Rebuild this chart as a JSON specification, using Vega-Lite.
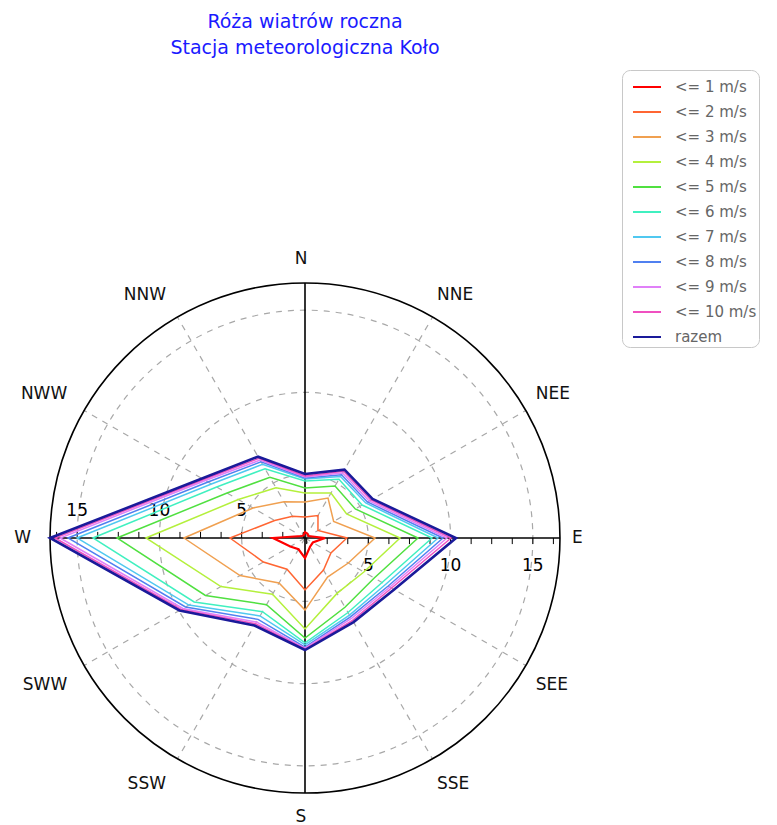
{
  "$schema": "https://vega.github.io/schema/vega-lite/v6.json",
  "width": 574,
  "height": 574,
  "autosize": {"type": "none"},
  "padding": {"left": 18, "top": 251, "right": 185, "bottom": 0},
  "background": "white",
  "config": {"view": {"stroke": null}},
  "title": {
    "text": ["Róża wiatrów roczna", "Stacja meteorologiczna Koło"],
    "color": "#1a1aff",
    "font": "DejaVu Sans",
    "fontSize": 19,
    "fontWeight": "normal",
    "lineHeight": 26,
    "anchor": "middle",
    "frame": "group",
    "offset": 12
  },
  "datasets": {
    "wind": [
      {"cls": "<= 1 m/s", "dir": "N", "deg": 0, "v": 1.51},
      {"cls": "<= 1 m/s", "dir": "NNE", "deg": 30, "v": 1.45},
      {"cls": "<= 1 m/s", "dir": "NEE", "deg": 60, "v": 1.39},
      {"cls": "<= 1 m/s", "dir": "E", "deg": 90, "v": 2.37},
      {"cls": "<= 1 m/s", "dir": "SEE", "deg": 120, "v": 1.70},
      {"cls": "<= 1 m/s", "dir": "SSE", "deg": 150, "v": 1.76},
      {"cls": "<= 1 m/s", "dir": "S", "deg": 180, "v": 2.37},
      {"cls": "<= 1 m/s", "dir": "SSW", "deg": 210, "v": 1.94},
      {"cls": "<= 1 m/s", "dir": "SWW", "deg": 240, "v": 2.18},
      {"cls": "<= 1 m/s", "dir": "W", "deg": 270, "v": 3.10},
      {"cls": "<= 1 m/s", "dir": "NWW", "deg": 300, "v": 1.39},
      {"cls": "<= 1 m/s", "dir": "NNW", "deg": 330, "v": 1.33},

      {"cls": "<= 2 m/s", "dir": "N", "deg": 0, "v": 2.43},
      {"cls": "<= 2 m/s", "dir": "NNE", "deg": 30, "v": 2.73},
      {"cls": "<= 2 m/s", "dir": "NEE", "deg": 60, "v": 2.06},
      {"cls": "<= 2 m/s", "dir": "E", "deg": 90, "v": 3.70},
      {"cls": "<= 2 m/s", "dir": "SEE", "deg": 120, "v": 2.97},
      {"cls": "<= 2 m/s", "dir": "SSE", "deg": 150, "v": 3.40},
      {"cls": "<= 2 m/s", "dir": "S", "deg": 180, "v": 4.31},
      {"cls": "<= 2 m/s", "dir": "SSW", "deg": 210, "v": 3.34},
      {"cls": "<= 2 m/s", "dir": "SWW", "deg": 240, "v": 4.07},
      {"cls": "<= 2 m/s", "dir": "W", "deg": 270, "v": 5.71},
      {"cls": "<= 2 m/s", "dir": "NWW", "deg": 300, "v": 3.28},
      {"cls": "<= 2 m/s", "dir": "NNW", "deg": 330, "v": 2.67},

      {"cls": "<= 3 m/s", "dir": "N", "deg": 0, "v": 3.34},
      {"cls": "<= 3 m/s", "dir": "NNE", "deg": 30, "v": 3.95},
      {"cls": "<= 3 m/s", "dir": "NEE", "deg": 60, "v": 3.16},
      {"cls": "<= 3 m/s", "dir": "E", "deg": 90, "v": 5.41},
      {"cls": "<= 3 m/s", "dir": "SEE", "deg": 120, "v": 4.19},
      {"cls": "<= 3 m/s", "dir": "SSE", "deg": 150, "v": 3.89},
      {"cls": "<= 3 m/s", "dir": "S", "deg": 180, "v": 5.53},
      {"cls": "<= 3 m/s", "dir": "SSW", "deg": 210, "v": 4.31},
      {"cls": "<= 3 m/s", "dir": "SWW", "deg": 240, "v": 5.71},
      {"cls": "<= 3 m/s", "dir": "W", "deg": 270, "v": 8.51},
      {"cls": "<= 3 m/s", "dir": "NWW", "deg": 300, "v": 4.80},
      {"cls": "<= 3 m/s", "dir": "NNW", "deg": 330, "v": 3.70},

      {"cls": "<= 4 m/s", "dir": "N", "deg": 0, "v": 3.89},
      {"cls": "<= 4 m/s", "dir": "NNE", "deg": 30, "v": 4.31},
      {"cls": "<= 4 m/s", "dir": "NEE", "deg": 60, "v": 4.07},
      {"cls": "<= 4 m/s", "dir": "E", "deg": 90, "v": 6.93},
      {"cls": "<= 4 m/s", "dir": "SEE", "deg": 120, "v": 5.28},
      {"cls": "<= 4 m/s", "dir": "SSE", "deg": 150, "v": 5.04},
      {"cls": "<= 4 m/s", "dir": "S", "deg": 180, "v": 6.68},
      {"cls": "<= 4 m/s", "dir": "SSW", "deg": 210, "v": 5.10},
      {"cls": "<= 4 m/s", "dir": "SWW", "deg": 240, "v": 7.05},
      {"cls": "<= 4 m/s", "dir": "W", "deg": 270, "v": 10.82},
      {"cls": "<= 4 m/s", "dir": "NWW", "deg": 300, "v": 5.83},
      {"cls": "<= 4 m/s", "dir": "NNW", "deg": 330, "v": 4.68},

      {"cls": "<= 5 m/s", "dir": "N", "deg": 0, "v": 4.19},
      {"cls": "<= 5 m/s", "dir": "NNE", "deg": 30, "v": 4.80},
      {"cls": "<= 5 m/s", "dir": "NEE", "deg": 60, "v": 4.68},
      {"cls": "<= 5 m/s", "dir": "E", "deg": 90, "v": 8.02},
      {"cls": "<= 5 m/s", "dir": "SEE", "deg": 120, "v": 6.01},
      {"cls": "<= 5 m/s", "dir": "SSE", "deg": 150, "v": 6.01},
      {"cls": "<= 5 m/s", "dir": "S", "deg": 180, "v": 7.23},
      {"cls": "<= 5 m/s", "dir": "SSW", "deg": 210, "v": 5.83},
      {"cls": "<= 5 m/s", "dir": "SWW", "deg": 240, "v": 8.14},
      {"cls": "<= 5 m/s", "dir": "W", "deg": 270, "v": 12.58},
      {"cls": "<= 5 m/s", "dir": "NWW", "deg": 300, "v": 6.62},
      {"cls": "<= 5 m/s", "dir": "NNW", "deg": 330, "v": 5.41},

      {"cls": "<= 6 m/s", "dir": "N", "deg": 0, "v": 4.62},
      {"cls": "<= 6 m/s", "dir": "NNE", "deg": 30, "v": 5.28},
      {"cls": "<= 6 m/s", "dir": "NEE", "deg": 60, "v": 5.16},
      {"cls": "<= 6 m/s", "dir": "E", "deg": 90, "v": 8.87},
      {"cls": "<= 6 m/s", "dir": "SEE", "deg": 120, "v": 6.56},
      {"cls": "<= 6 m/s", "dir": "SSE", "deg": 150, "v": 6.38},
      {"cls": "<= 6 m/s", "dir": "S", "deg": 180, "v": 7.53},
      {"cls": "<= 6 m/s", "dir": "SSW", "deg": 210, "v": 6.32},
      {"cls": "<= 6 m/s", "dir": "SWW", "deg": 240, "v": 8.93},
      {"cls": "<= 6 m/s", "dir": "W", "deg": 270, "v": 14.04},
      {"cls": "<= 6 m/s", "dir": "NWW", "deg": 300, "v": 7.35},
      {"cls": "<= 6 m/s", "dir": "NNW", "deg": 330, "v": 6.01},

      {"cls": "<= 7 m/s", "dir": "N", "deg": 0, "v": 4.74},
      {"cls": "<= 7 m/s", "dir": "NNE", "deg": 30, "v": 5.47},
      {"cls": "<= 7 m/s", "dir": "NEE", "deg": 60, "v": 5.41},
      {"cls": "<= 7 m/s", "dir": "E", "deg": 90, "v": 9.24},
      {"cls": "<= 7 m/s", "dir": "SEE", "deg": 120, "v": 6.80},
      {"cls": "<= 7 m/s", "dir": "SSE", "deg": 150, "v": 6.56},
      {"cls": "<= 7 m/s", "dir": "S", "deg": 180, "v": 7.65},
      {"cls": "<= 7 m/s", "dir": "SSW", "deg": 210, "v": 6.62},
      {"cls": "<= 7 m/s", "dir": "SWW", "deg": 240, "v": 9.30},
      {"cls": "<= 7 m/s", "dir": "W", "deg": 270, "v": 15.01},
      {"cls": "<= 7 m/s", "dir": "NWW", "deg": 300, "v": 7.72},
      {"cls": "<= 7 m/s", "dir": "NNW", "deg": 330, "v": 6.32},

      {"cls": "<= 8 m/s", "dir": "N", "deg": 0, "v": 4.80},
      {"cls": "<= 8 m/s", "dir": "NNE", "deg": 30, "v": 5.59},
      {"cls": "<= 8 m/s", "dir": "NEE", "deg": 60, "v": 5.53},
      {"cls": "<= 8 m/s", "dir": "E", "deg": 90, "v": 9.54},
      {"cls": "<= 8 m/s", "dir": "SEE", "deg": 120, "v": 6.99},
      {"cls": "<= 8 m/s", "dir": "SSE", "deg": 150, "v": 6.68},
      {"cls": "<= 8 m/s", "dir": "S", "deg": 180, "v": 7.78},
      {"cls": "<= 8 m/s", "dir": "SSW", "deg": 210, "v": 6.86},
      {"cls": "<= 8 m/s", "dir": "SWW", "deg": 240, "v": 9.54},
      {"cls": "<= 8 m/s", "dir": "W", "deg": 270, "v": 15.56},
      {"cls": "<= 8 m/s", "dir": "NWW", "deg": 300, "v": 7.96},
      {"cls": "<= 8 m/s", "dir": "NNW", "deg": 330, "v": 6.50},

      {"cls": "<= 9 m/s", "dir": "N", "deg": 0, "v": 4.86},
      {"cls": "<= 9 m/s", "dir": "NNE", "deg": 30, "v": 5.71},
      {"cls": "<= 9 m/s", "dir": "NEE", "deg": 60, "v": 5.65},
      {"cls": "<= 9 m/s", "dir": "E", "deg": 90, "v": 9.78},
      {"cls": "<= 9 m/s", "dir": "SEE", "deg": 120, "v": 7.11},
      {"cls": "<= 9 m/s", "dir": "SSE", "deg": 150, "v": 6.80},
      {"cls": "<= 9 m/s", "dir": "S", "deg": 180, "v": 7.84},
      {"cls": "<= 9 m/s", "dir": "SSW", "deg": 210, "v": 7.05},
      {"cls": "<= 9 m/s", "dir": "SWW", "deg": 240, "v": 9.72},
      {"cls": "<= 9 m/s", "dir": "W", "deg": 270, "v": 16.04},
      {"cls": "<= 9 m/s", "dir": "NWW", "deg": 300, "v": 8.14},
      {"cls": "<= 9 m/s", "dir": "NNW", "deg": 330, "v": 6.62},

      {"cls": "<= 10 m/s", "dir": "N", "deg": 0, "v": 4.92},
      {"cls": "<= 10 m/s", "dir": "NNE", "deg": 30, "v": 5.83},
      {"cls": "<= 10 m/s", "dir": "NEE", "deg": 60, "v": 5.77},
      {"cls": "<= 10 m/s", "dir": "E", "deg": 90, "v": 10.03},
      {"cls": "<= 10 m/s", "dir": "SEE", "deg": 120, "v": 7.23},
      {"cls": "<= 10 m/s", "dir": "SSE", "deg": 150, "v": 6.93},
      {"cls": "<= 10 m/s", "dir": "S", "deg": 180, "v": 7.90},
      {"cls": "<= 10 m/s", "dir": "SSW", "deg": 210, "v": 7.17},
      {"cls": "<= 10 m/s", "dir": "SWW", "deg": 240, "v": 9.84},
      {"cls": "<= 10 m/s", "dir": "W", "deg": 270, "v": 16.35},
      {"cls": "<= 10 m/s", "dir": "NWW", "deg": 300, "v": 8.26},
      {"cls": "<= 10 m/s", "dir": "NNW", "deg": 330, "v": 6.74},

      {"cls": "razem", "dir": "N", "deg": 0, "v": 5.04},
      {"cls": "razem", "dir": "NNE", "deg": 30, "v": 5.95},
      {"cls": "razem", "dir": "NEE", "deg": 60, "v": 5.89},
      {"cls": "razem", "dir": "E", "deg": 90, "v": 10.33},
      {"cls": "razem", "dir": "SEE", "deg": 120, "v": 7.41},
      {"cls": "razem", "dir": "SSE", "deg": 150, "v": 7.05},
      {"cls": "razem", "dir": "S", "deg": 180, "v": 7.96},
      {"cls": "razem", "dir": "SSW", "deg": 210, "v": 7.29},
      {"cls": "razem", "dir": "SWW", "deg": 240, "v": 9.96},
      {"cls": "razem", "dir": "W", "deg": 270, "v": 16.65},
      {"cls": "razem", "dir": "NWW", "deg": 300, "v": 8.38},
      {"cls": "razem", "dir": "NNW", "deg": 330, "v": 6.86}
    ],
    "circles": [{"v": 5, "kind": "grid"}, {"v": 10, "kind": "grid"}, {"v": 15, "kind": "grid"}, {"v": 16.65, "kind": "outer"}],
    "spokes": [{"deg": 30}, {"deg": 60}, {"deg": 120}, {"deg": 150}, {"deg": 210}, {"deg": 240}, {"deg": 300}, {"deg": 330}],
    "axes": [{"deg": 0}, {"deg": 90}],
    "ticks": [{"v": 1.25}, {"v": 2.5}, {"v": 3.75}, {"v": 5}, {"v": 6.25}, {"v": 7.5}, {"v": 8.75}, {"v": 10}, {"v": 11.25}, {"v": 12.5}, {"v": 13.75}, {"v": 15}, {"v": 16.25}],
    "dirs": [
      {"lab": "N", "deg": 0}, {"lab": "NNE", "deg": 30}, {"lab": "NEE", "deg": 60}, {"lab": "E", "deg": 90},
      {"lab": "SEE", "deg": 120}, {"lab": "SSE", "deg": 150}, {"lab": "S", "deg": 180}, {"lab": "SSW", "deg": 210},
      {"lab": "SWW", "deg": 240}, {"lab": "W", "deg": 270}, {"lab": "NWW", "deg": 300}, {"lab": "NNW", "deg": 330}
    ],
    "nums": [{"t": "5", "v": 5}, {"t": "10", "v": 10}, {"t": "15", "v": 15}]
  },
  "layer": [
    {
      "data": {"name": "circles"},
      "transform": [
        {"filter": "datum.kind === 'grid'"},
        {"calculate": "datum.v - 1.15", "as": "r"},
        {"calculate": "0", "as": "c"}
      ],
      "mark": {"type": "point", "shape": "circle", "filled": false, "stroke": "#a8a8a8", "strokeWidth": 1.2, "strokeDash": [6, 6], "opacity": 1},
      "encoding": {
        "x": {"field": "c", "type": "quantitative", "scale": {"domain": [-17.447, 17.447], "nice": false, "zero": false}, "axis": null},
        "y": {"field": "c", "type": "quantitative", "scale": {"domain": [-17.447, 17.447], "nice": false, "zero": false}, "axis": null},
        "size": {"field": "r", "type": "quantitative", "scale": {"type": "pow", "exponent": 2, "domain": [0, 17.447], "range": [0, 329476], "zero": true}, "legend": null}
      }
    },
    {
      "data": {"name": "spokes"},
      "transform": [
        {"calculate": "0", "as": "c"},
        {"calculate": "15.5 * sin(datum.deg * PI / 180)", "as": "xe"},
        {"calculate": "15.5 * cos(datum.deg * PI / 180)", "as": "ye"}
      ],
      "mark": {"type": "rule", "stroke": "#a8a8a8", "strokeWidth": 1.2, "strokeDash": [6, 6]},
      "encoding": {
        "x": {"field": "c", "type": "quantitative"},
        "y": {"field": "c", "type": "quantitative"},
        "x2": {"field": "xe"},
        "y2": {"field": "ye"}
      }
    },
    {
      "data": {"name": "circles"},
      "transform": [
        {"filter": "datum.kind === 'outer'"},
        {"calculate": "datum.v - 1.15", "as": "r"},
        {"calculate": "0", "as": "c"}
      ],
      "mark": {"type": "point", "shape": "circle", "filled": false, "stroke": "#000000", "strokeWidth": 1.6, "opacity": 1},
      "encoding": {
        "x": {"field": "c", "type": "quantitative"},
        "y": {"field": "c", "type": "quantitative"},
        "size": {"field": "r", "type": "quantitative", "legend": null}
      }
    },
    {
      "data": {"name": "axes"},
      "transform": [
        {"calculate": "15.5 * sin(datum.deg * PI / 180)", "as": "xe"},
        {"calculate": "15.5 * cos(datum.deg * PI / 180)", "as": "ye"},
        {"calculate": "-datum.xe", "as": "xs"},
        {"calculate": "-datum.ye", "as": "ys"}
      ],
      "mark": {"type": "rule", "stroke": "#000000", "strokeWidth": 1.6},
      "encoding": {
        "x": {"field": "xs", "type": "quantitative"},
        "y": {"field": "ys", "type": "quantitative"},
        "x2": {"field": "xe"},
        "y2": {"field": "ye"}
      }
    },
    {
      "data": {"name": "ticks"},
      "transform": [
        {"calculate": "datum.v - 1.15", "as": "r"},
        {"calculate": "0", "as": "c"},
        {"calculate": "-0.37", "as": "t"}
      ],
      "mark": {"type": "rule", "stroke": "#000000", "strokeWidth": 1},
      "encoding": {
        "x": {"field": "r", "type": "quantitative"},
        "y": {"field": "c", "type": "quantitative"},
        "y2": {"field": "t"}
      }
    },
    {
      "data": {"name": "ticks"},
      "transform": [
        {"calculate": "1.15 - datum.v", "as": "r"},
        {"calculate": "0", "as": "c"},
        {"calculate": "0.37", "as": "t"}
      ],
      "mark": {"type": "rule", "stroke": "#000000", "strokeWidth": 1},
      "encoding": {
        "x": {"field": "r", "type": "quantitative"},
        "y": {"field": "c", "type": "quantitative"},
        "y2": {"field": "t"}
      }
    },
    {
      "data": {"name": "nums"},
      "transform": [
        {"calculate": "1.15 - datum.v", "as": "r"},
        {"calculate": "0", "as": "c"}
      ],
      "mark": {"type": "text", "font": "DejaVu Sans", "fontSize": 17, "color": "#000000", "align": "center", "baseline": "middle", "dy": -27},
      "encoding": {
        "x": {"field": "r", "type": "quantitative"},
        "y": {"field": "c", "type": "quantitative"},
        "text": {"field": "t", "type": "nominal"}
      }
    },
    {
      "data": {"name": "nums"},
      "transform": [
        {"calculate": "datum.v - 1.15", "as": "r"},
        {"calculate": "0", "as": "c"}
      ],
      "mark": {"type": "text", "font": "DejaVu Sans", "fontSize": 17, "color": "#000000", "align": "center", "baseline": "middle", "dy": 28},
      "encoding": {
        "x": {"field": "r", "type": "quantitative"},
        "y": {"field": "c", "type": "quantitative"},
        "text": {"field": "t", "type": "nominal"}
      }
    },
    {
      "data": {"name": "dirs"},
      "transform": [
        {"filter": "datum.deg > 0 && datum.deg < 180"},
        {"calculate": "16.41 * sin(datum.deg * PI / 180)", "as": "px"},
        {"calculate": "16.41 * cos(datum.deg * PI / 180) + (abs(cos(datum.deg * PI / 180)) > 0.01 ? (cos(datum.deg * PI / 180) > 0 ? 0.55 : -0.74) : 0)", "as": "py"}
      ],
      "mark": {"type": "text", "font": "DejaVu Sans", "fontSize": 17, "color": "#111111", "align": "left", "baseline": "middle", "dx": -3},
      "encoding": {
        "x": {"field": "px", "type": "quantitative"},
        "y": {"field": "py", "type": "quantitative"},
        "text": {"field": "lab", "type": "nominal"}
      }
    },
    {
      "data": {"name": "dirs"},
      "transform": [
        {"filter": "datum.deg > 180"},
        {"calculate": "16.41 * sin(datum.deg * PI / 180)", "as": "px"},
        {"calculate": "16.41 * cos(datum.deg * PI / 180) + (abs(cos(datum.deg * PI / 180)) > 0.01 ? (cos(datum.deg * PI / 180) > 0 ? 0.55 : -0.74) : 0)", "as": "py"}
      ],
      "mark": {"type": "text", "font": "DejaVu Sans", "fontSize": 17, "color": "#111111", "align": "right", "baseline": "middle", "dx": -4},
      "encoding": {
        "x": {"field": "px", "type": "quantitative"},
        "y": {"field": "py", "type": "quantitative"},
        "text": {"field": "lab", "type": "nominal"}
      }
    },
    {
      "data": {"name": "dirs"},
      "transform": [
        {"filter": "datum.deg === 0 || datum.deg === 180"},
        {"calculate": "0", "as": "px"},
        {"calculate": "16.41 * cos(datum.deg * PI / 180) + (cos(datum.deg * PI / 180) > 0 ? 0.55 : -0.55)", "as": "py"}
      ],
      "mark": {"type": "text", "font": "DejaVu Sans", "fontSize": 17, "color": "#111111", "align": "center", "baseline": "middle", "dx": -4},
      "encoding": {
        "x": {"field": "px", "type": "quantitative"},
        "y": {"field": "py", "type": "quantitative"},
        "text": {"field": "lab", "type": "nominal"}
      }
    },
    {
      "data": {"name": "wind"},
      "transform": [
        {"filter": "datum.cls !== 'razem' && datum.cls !== '<= 1 m/s'"},
        {"calculate": "datum.v - 1.15", "as": "r"},
        {"calculate": "datum.r * sin(datum.deg * PI / 180)", "as": "px"},
        {"calculate": "datum.r * cos(datum.deg * PI / 180)", "as": "py"}
      ],
      "mark": {"type": "line", "interpolate": "linear-closed", "strokeWidth": 1.5},
      "encoding": {
        "x": {"field": "px", "type": "quantitative"},
        "y": {"field": "py", "type": "quantitative"},
        "order": {"field": "deg", "type": "quantitative"},
        "color": {
          "field": "cls",
          "type": "nominal",
          "scale": {
            "domain": ["<= 1 m/s", "<= 2 m/s", "<= 3 m/s", "<= 4 m/s", "<= 5 m/s", "<= 6 m/s", "<= 7 m/s", "<= 8 m/s", "<= 9 m/s", "<= 10 m/s", "razem"],
            "range": ["#ff0000", "#ff6633", "#f0a050", "#b4f03c", "#50e040", "#40f0c0", "#50c8f0", "#5080f0", "#e080f8", "#f050c0", "#1a1a9a"]
          },
          "legend": {
            "title": null,
            "orient": "none",
            "legendX": 604,
            "legendY": -181,
            "symbolType": "stroke",
            "symbolSize": 784,
            "symbolStrokeWidth": 2,
            "symbolOffset": 8,
            "labelFont": "DejaVu Sans",
            "labelFontSize": 15,
            "labelColor": "#666666",
            "labelOffset": 13,
            "labelExpr": "datum.label + '\u00a0\u00a0\u00a0'",
            "rowPadding": 2,
            "padding": 2,
            "strokeColor": "#c8c8c8",
            "fillColor": "#ffffff",
            "cornerRadius": 8
          }
        }
      }
    },
    {
      "data": {"name": "wind"},
      "transform": [
        {"filter": "datum.cls === '<= 1 m/s'"},
        {"calculate": "datum.v - 1.15", "as": "r"},
        {"calculate": "datum.r * sin(datum.deg * PI / 180)", "as": "px"},
        {"calculate": "datum.r * cos(datum.deg * PI / 180)", "as": "py"}
      ],
      "mark": {"type": "line", "interpolate": "linear-closed", "strokeWidth": 2.2},
      "encoding": {
        "x": {"field": "px", "type": "quantitative"},
        "y": {"field": "py", "type": "quantitative"},
        "order": {"field": "deg", "type": "quantitative"},
        "color": {"field": "cls", "type": "nominal"}
      }
    },
    {
      "data": {"name": "wind"},
      "transform": [
        {"filter": "datum.cls === 'razem'"},
        {"calculate": "datum.v - 1.15", "as": "r"},
        {"calculate": "datum.r * sin(datum.deg * PI / 180)", "as": "px"},
        {"calculate": "datum.r * cos(datum.deg * PI / 180)", "as": "py"}
      ],
      "mark": {"type": "line", "interpolate": "linear-closed", "strokeWidth": 2.6},
      "encoding": {
        "x": {"field": "px", "type": "quantitative"},
        "y": {"field": "py", "type": "quantitative"},
        "order": {"field": "deg", "type": "quantitative"},
        "color": {"field": "cls", "type": "nominal"}
      }
    }
  ]
}
